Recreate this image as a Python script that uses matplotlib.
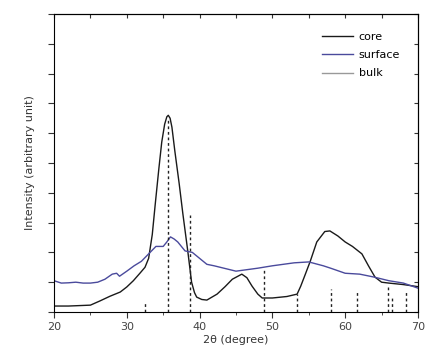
import numpy as np
import matplotlib
matplotlib.use("Agg")
import matplotlib.pyplot as plt
from matplotlib.ticker import MultipleLocator, NullFormatter

# core pattern
core_x = [20, 22, 24, 25, 26.3, 27.7, 29.1, 30, 30.9, 31.8, 32.5, 33, 33.5, 33.9, 34.4, 34.8, 35.2,
          35.5, 35.7, 35.95, 36.2, 36.6, 37.2, 37.7, 38.4, 38.9, 39.3, 39.6, 40.3, 41, 42.4, 43.5, 44.5,
          45.8, 46.5, 47.2, 48, 48.6, 50, 52, 53.4, 53.9, 54.5, 55.2, 56.1, 57.2, 57.9, 59, 60, 61,
          62.3, 63.2, 64.1, 65, 66, 68, 70]
core_y = [0.2, 0.2, 0.22, 0.23, 0.37, 0.53, 0.67, 0.84, 1.05, 1.3, 1.5, 1.8, 2.6, 3.6, 4.8, 5.7, 6.3,
          6.55, 6.6, 6.5, 6.2, 5.4, 4.3, 3.3, 2.0, 1.0, 0.65, 0.5, 0.42, 0.4, 0.6, 0.85, 1.1,
          1.27, 1.15, 0.87, 0.6, 0.47, 0.47, 0.52, 0.6, 0.87, 1.25, 1.7, 2.35, 2.7, 2.72, 2.55, 2.35, 2.2,
          1.95, 1.55, 1.17, 1.0, 0.97, 0.92, 0.85]

# surface pattern
surf_x = [20, 21, 22, 23, 24, 25, 26, 27, 28, 28.6, 29, 30, 31, 32, 33, 34, 35, 35.5, 36, 36.5, 37,
          38, 39, 40, 41, 42, 45, 48, 50, 53, 55, 57, 58, 60, 62, 64, 66, 68, 70]
surf_y = [1.05, 0.97, 0.98, 1.0, 0.97, 0.97, 1.0, 1.1, 1.27, 1.3, 1.2, 1.37, 1.55, 1.7, 1.95, 2.2, 2.2,
          2.35, 2.52, 2.45, 2.35, 2.05, 2.0, 1.8, 1.6, 1.55, 1.37, 1.47, 1.55, 1.65, 1.68, 1.55, 1.47,
          1.3, 1.27, 1.17, 1.05, 0.97, 0.8]

# reference peak positions (dashed sticks)
ref_x = [32.5, 35.6, 38.7, 48.9, 53.4, 58.1, 61.6, 65.9, 66.4, 68.3]
ref_h = [0.35, 6.5, 3.25, 1.47, 0.6, 0.77, 0.7, 0.85, 0.55, 0.7]

fig = plt.figure(figsize=(4.3, 3.58), dpi=100)
ax = fig.add_axes([0.1256, 0.1285, 0.8464, 0.8325])

ax.plot(core_x, core_y, color='#1a1a1a', lw=1.0, label='core')
ax.plot(surf_x, surf_y, color='#4a4a9c', lw=1.0, label='surface')
ax.plot([], [], color='#999999', lw=1.0, label='bulk')
ax.vlines(ref_x, 0, ref_h, colors='#222222', linestyles=(0, (2, 2)), lw=1.0)

ax.set_xlim(20, 70)
ax.set_ylim(0, 10)
ax.xaxis.set_major_locator(MultipleLocator(10))
ax.xaxis.set_minor_locator(MultipleLocator(5))
ax.yaxis.set_major_locator(MultipleLocator(1))
ax.yaxis.set_major_formatter(NullFormatter())
ax.tick_params(axis='both', which='both', direction='out',
               labelsize=8, labelcolor='#444444', color='#333333')
ax.tick_params(which='major', length=4)
ax.tick_params(which='minor', length=2)

# mirrored ticks pointing inward on top and right
top = ax.secondary_xaxis('top')
top.xaxis.set_major_locator(MultipleLocator(5))
top.tick_params(direction='in', length=3, labeltop=False, color='#333333')
right = ax.secondary_yaxis('right')
right.yaxis.set_major_locator(MultipleLocator(1))
right.tick_params(direction='in', length=3, labelright=False, color='#333333')

ax.set_xlabel('2θ (degree)', fontsize=8, color='#333333', labelpad=2)
ax.set_ylabel('Intensity (arbitrary unit)', fontsize=8, color='#333333', labelpad=6)

ax.legend(loc='upper right', frameon=False, fontsize=8, handlelength=2.8,
          handletextpad=0.5, labelspacing=0.75, borderaxespad=1.2)

fig.savefig('out.png', dpi=100)
